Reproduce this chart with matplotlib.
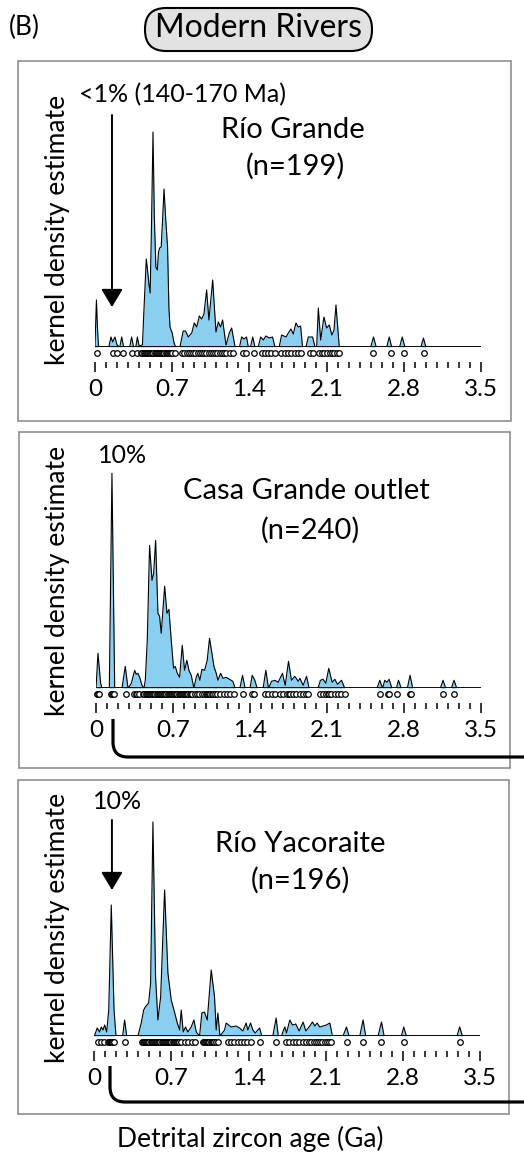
import matplotlib.pyplot as plt
from matplotlib.patches import Rectangle, FancyBboxPatch, PathPatch
from matplotlib.path import Path
from matplotlib.transforms import Affine2D
from matplotlib.ticker import MultipleLocator

plt.rcParams['font.family'] = ['Lato', 'DejaVu Sans']

W, H = 524, 1162
BLUE = '#8acff0'

ticks = [0, 0.7, 1.4, 2.1, 2.8, 3.5]
tick_labels = ['0', '0.7', '1.4', '2.1', '2.8', '3.5']

# KDE outlines: age (Ga) and height (px above baseline)
rg_age = [0.0, 0.005, 0.013, 0.022, 0.032, 0.125, 0.145, 0.16, 0.181, 0.2, 0.225, 0.242, 0.26, 0.315,
          0.332, 0.35, 0.37, 0.384, 0.40, 0.43, 0.445, 0.465, 0.478, 0.49, 0.50, 0.512, 0.526, 0.538,
          0.552, 0.565, 0.576, 0.586, 0.60, 0.614, 0.626, 0.64, 0.658, 0.67, 0.68, 0.70, 0.715, 0.73,
          0.77, 0.80, 0.821, 0.846, 0.877, 0.90, 0.922, 0.946, 0.967, 0.988, 1.012, 1.033, 1.067,
          1.097, 1.118, 1.139, 1.157, 1.188, 1.218, 1.239, 1.27, 1.31, 1.33, 1.351, 1.374, 1.39, 1.41,
          1.43, 1.45, 1.48, 1.502, 1.526, 1.55, 1.58, 1.61, 1.632, 1.67, 1.692, 1.732, 1.753, 1.777,
          1.798, 1.822, 1.843, 1.864, 1.882, 1.913, 1.934, 1.973, 1.995, 2.01, 2.025, 2.046, 2.076,
          2.10, 2.124, 2.148, 2.167, 2.185, 2.215, 2.50, 2.525, 2.55, 2.645, 2.668, 2.69, 2.762,
          2.786, 2.81, 2.955, 2.978, 3.0, 3.5]
rg_kde = [0, 20, 47, 20, 0, 0, 10, 5, 10, 2, 0, 10, 0, 0, 10, 0, 0, 10, 1, 2, 40, 88, 75, 62, 54,
          120, 215, 130, 80, 77, 95, 99, 100, 130, 158, 130, 100, 40, 20, 14, 5, 0, 0, 16, 16, 10,
          14, 24, 20, 31, 28, 33, 57, 27, 67, 15, 25, 20, 27, 2, 14, 19, 0, 0, 10, 8, 10, 0, 0, 10,
          0, 0, 10, 7, 11, 9, 10, 0, 0, 12, 10, 14, 18, 13, 24, 20, 21, 0, 0, 10, 10, 0, 0, 39, 7,
          30, 19, 22, 12, 17, 42, 0, 0, 10, 0, 0, 10, 0, 0, 10, 0, 0, 9, 0, 0]
rg_grains = [0.015, 0.16, 0.197, 0.257, 0.332, 0.378, 0.42, 0.43, 0.44, 0.45, 0.46, 0.47, 0.48,
             0.49, 0.50, 0.51, 0.52, 0.53, 0.54, 0.55, 0.56, 0.57, 0.58, 0.59, 0.60, 0.61, 0.62,
             0.63, 0.64, 0.65, 0.66, 0.67, 0.68, 0.69, 0.70, 0.725, 0.79, 0.81, 0.83, 0.85, 0.87,
             0.89, 0.91, 0.93, 0.95, 0.97, 0.99, 1.01, 1.03, 1.05, 1.07, 1.09, 1.11, 1.13, 1.15,
             1.17, 1.19, 1.22, 1.25, 1.34, 1.37, 1.44, 1.51, 1.54, 1.57, 1.60, 1.63, 1.69, 1.72,
             1.75, 1.78, 1.81, 1.84, 1.87, 1.95, 1.98, 2.03, 2.06, 2.08, 2.10, 2.13, 2.15, 2.17,
             2.19, 2.21, 2.52, 2.68, 2.80, 2.98]

cg_age = [0.0, 0.018, 0.042, 0.054, 0.121, 0.145, 0.17, 0.236, 0.266, 0.291, 0.321, 0.351, 0.366,
          0.381, 0.397, 0.418, 0.436, 0.448, 0.466, 0.487, 0.509, 0.524, 0.542, 0.563, 0.578, 0.593,
          0.624, 0.645, 0.663, 0.684, 0.705, 0.72, 0.739, 0.76, 0.784, 0.805, 0.826, 0.845, 0.866,
          0.89, 0.911, 0.926, 0.944, 0.963, 0.987, 1.011, 1.032, 1.054, 1.072, 1.093, 1.108, 1.133,
          1.154, 1.184, 1.214, 1.244, 1.265, 1.308, 1.332, 1.356, 1.40, 1.42, 1.444, 1.465, 1.519,
          1.544, 1.568, 1.596, 1.626, 1.656, 1.695, 1.72, 1.75, 1.777, 1.807, 1.838, 1.853, 1.883,
          1.914, 1.938, 2.019, 2.04, 2.065, 2.089, 2.116, 2.147, 2.171, 2.196, 2.232, 2.262, 2.555,
          2.58, 2.605, 2.625, 2.645, 2.665, 2.69, 2.73, 2.75, 2.775, 2.83, 2.855, 2.88, 3.13, 3.155,
          3.18, 3.23, 3.255, 3.28, 3.5]
cg_kde = [0, 35, 5, 0, 0, 215, 0, 0, 22, 0, 5, 18, 14, 15, 11, 3, 0, 8, 48, 143, 108, 115, 148, 75,
          72, 55, 102, 75, 79, 48, 20, 22, 15, 11, 43, 18, 28, 18, 13, 0, 11, 15, 8, 19, 18, 28, 50,
          35, 22, 15, 8, 15, 10, 11, 9, 7, 0, 0, 13, 0, 0, 13, 8, 0, 0, 18, 0, 7, 8, 6, 15, 3, 27, 8,
          12, 7, 10, 3, 12, 0, 0, 8, 9, 5, 20, 6, 9, 4, 8, 0, 0, 8, 0, 8, 6, 9, 0, 0, 8, 0, 0, 13, 0,
          0, 8, 0, 0, 8, 0, 0]
cg_grains = [0.012, 0.02, 0.028, 0.14, 0.147, 0.155, 0.163, 0.27, 0.345, 0.36, 0.375, 0.39, 0.43,
             0.44, 0.45, 0.46, 0.47, 0.48, 0.49, 0.50, 0.51, 0.52, 0.53, 0.54, 0.55, 0.56, 0.57,
             0.58, 0.59, 0.60, 0.61, 0.62, 0.63, 0.64, 0.65, 0.66, 0.67, 0.68, 0.69, 0.70, 0.71,
             0.72, 0.73, 0.74, 0.75, 0.76, 0.77, 0.78, 0.79, 0.80, 0.81, 0.82, 0.83, 0.84, 0.85,
             0.86, 0.87, 0.90, 0.92, 0.94, 0.96, 0.98, 1.00, 1.01, 1.02, 1.03, 1.04, 1.05, 1.06,
             1.08, 1.10, 1.13, 1.16, 1.19, 1.22, 1.25, 1.34, 1.42, 1.44, 1.54, 1.56, 1.60, 1.63,
             1.67, 1.70, 1.74, 1.75, 1.76, 1.79, 1.82, 1.85, 1.88, 1.91, 1.93, 2.04, 2.06, 2.09,
             2.11, 2.12, 2.14, 2.17, 2.20, 2.23, 2.26, 2.58, 2.65, 2.66, 2.74, 2.85, 2.86, 3.15,
             3.25]

ry_age = [0.0, 0.027, 0.048, 0.063, 0.079, 0.094, 0.112, 0.131, 0.154, 0.179, 0.197, 0.257, 0.275,
          0.294, 0.396, 0.426, 0.448, 0.463, 0.493, 0.511, 0.532, 0.556, 0.577, 0.602, 0.638, 0.668,
          0.698, 0.723, 0.753, 0.774, 0.789, 0.807, 0.828, 0.849, 0.879, 0.904, 0.925, 0.955, 0.976,
          1.0, 1.025, 1.061, 1.091, 1.106, 1.121, 1.14, 1.182, 1.197, 1.242, 1.287, 1.318, 1.348,
          1.378, 1.393, 1.418, 1.439, 1.46, 1.50, 1.52, 1.62, 1.65, 1.67, 1.699, 1.714, 1.729, 1.744,
          1.774, 1.798, 1.828, 1.859, 1.895, 1.919, 1.949, 1.98, 2.001, 2.022, 2.046, 2.076, 2.106,
          2.137, 2.161, 2.257, 2.288, 2.312, 2.409, 2.439, 2.463, 2.575, 2.606, 2.63, 2.787, 2.808,
          2.832, 3.291, 3.316, 3.34, 3.5]
ry_kde = [0, 8, 4, 9, 6, 11, 4, 26, 131, 26, 0, 0, 16, 0, 0, 13, 26, 29, 33, 53, 214, 59, 16, 39,
          146, 63, 36, 26, 13, 6, 26, 4, 9, 4, 9, 16, 4, 0, 23, 24, 16, 66, 39, 6, 23, 0, 6, 13, 9,
          10, 8, 5, 13, 6, 13, 6, 3, 8, 0, 0, 18, 0, 0, 5, 9, 3, 16, 11, 12, 5, 14, 5, 9, 14, 10, 13,
          9, 10, 11, 13, 0, 0, 9, 0, 0, 16, 0, 0, 14, 0, 0, 9, 0, 0, 9, 0, 0]
ry_grains = [0.03, 0.06, 0.09, 0.12, 0.13, 0.14, 0.145, 0.15, 0.155, 0.16, 0.165, 0.17, 0.18, 0.275,
             0.43, 0.44, 0.45, 0.46, 0.47, 0.48, 0.49, 0.50, 0.51, 0.52, 0.53, 0.54, 0.55, 0.56,
             0.57, 0.58, 0.59, 0.60, 0.61, 0.62, 0.63, 0.64, 0.65, 0.66, 0.67, 0.68, 0.69, 0.70,
             0.71, 0.72, 0.73, 0.74, 0.75, 0.76, 0.77, 0.79, 0.82, 0.85, 0.89, 0.91, 0.985, 0.995,
             1.005, 1.015, 1.025, 1.035, 1.045, 1.055, 1.065, 1.075, 1.085, 1.10, 1.12, 1.21, 1.24,
             1.27, 1.30, 1.33, 1.36, 1.39, 1.42, 1.50, 1.65, 1.74, 1.77, 1.80, 1.83, 1.86, 1.89,
             1.92, 1.95, 1.97, 1.99, 2.01, 2.03, 2.05, 2.07, 2.09, 2.11, 2.13, 2.15, 2.29, 2.44,
             2.60, 2.81, 3.32]

fig = plt.figure(figsize=(W / 100, H / 100), dpi=100)
# pixel coordinates, origin top-left
pix = Affine2D().scale(0.01, -0.01).translate(0, H / 100) + fig.dpi_scale_trans


def panel(age, kde, grains, x0, x1, base):
    ax = fig.add_axes([x0 / W, (H - base) / H, (x1 - x0) / W, 235 / H])
    ax.set_xlim(0, 3.5)
    ax.set_ylim(0, 235)
    ax.patch.set_alpha(0)
    ax.fill_between(age, kde, color=BLUE, lw=0)
    ax.plot(age, kde, color='k', lw=0.8)
    ax.axhline(0, color='k', lw=1.3)
    ax.plot(grains, [-5.5] * len(grains), 'o', ms=4.0, mfc='white', mec='k', mew=0.9,
            clip_on=False)
    for s in ['left', 'right', 'top']:
        ax.spines[s].set_visible(False)
    ax.spines['bottom'].set_position(('outward', 10.8))
    ax.spines['bottom'].set_visible(False)
    ax.set_yticks([])
    ax.set_xticks(ticks)
    ax.set_xticklabels(tick_labels)
    ax.xaxis.set_minor_locator(MultipleLocator(0.1))
    ax.tick_params(which='major', length=7.2, width=1.1, pad=5, labelsize=17.5)
    ax.tick_params(which='minor', length=4.3, width=1.1)
    return ax


def box(x, y, w, h):
    fig.add_artist(Rectangle((x, y), w, h, transform=pix, fill=False, ec='#858585', lw=1.1))


def bracket(x, y0, y1, r=15):
    p = Path([(x, y0), (x, y1 - r), (x, y1), (x + r, y1), (W + 10, y1)],
             [Path.MOVETO, Path.LINETO, Path.CURVE3, Path.CURVE3, Path.LINETO])
    fig.add_artist(PathPatch(p, transform=pix, fill=False, ec='k', lw=2.3))


def txt(x, y, s, size, **kw):
    fig.text(x, y, s, transform=pix, fontsize=size, ha='center', va='baseline', **kw)


def arrow(ax, age, top, tip):
    ax.annotate('', xy=(age, tip), xytext=(age, top), annotation_clip=False,
                arrowprops=dict(arrowstyle='-|>,head_length=0.55,head_width=0.33',
                                mutation_scale=20, lw=1.4, color='k', shrinkA=0, shrinkB=0))


# header
txt(24, 35, '(B)', 19)
fig.add_artist(FancyBboxPatch((145, 8), 227, 43, boxstyle='round,pad=0,rounding_size=21',
                              transform=pix, fc='#e2e2e2', ec='k', lw=1.5))
txt(258.5, 37, 'Modern Rivers', 23)

# panel 1
box(18, 61, 493, 360)
ax1 = panel(rg_age, rg_kde, rg_grains, 95, 481, 347)
arrow(ax1, 0.154, 232, 40)
txt(182.5, 102, '<1% (140-170 Ma)', 18)
txt(292.5, 138, 'Río Grande', 21)
txt(295.5, 175, '(n=199)', 21)

# panel 2
box(19, 432, 491, 336)
ax2 = panel(cg_age, cg_kde, cg_grains, 96, 481, 688.3)
bracket(113, 719, 757)
txt(122.5, 463, '10%', 18)
txt(306.5, 499, 'Casa Grande outlet', 21)
txt(310, 539, '(n=240)', 21)

# panel 3
box(18, 780, 491, 334)
ax3 = panel(ry_age, ry_kde, ry_grains, 94.3, 480, 1036)
arrow(ax3, 0.16, 216, 146)
bracket(110, 1066, 1102)
txt(117.5, 809, '10%', 18)
txt(300, 851.5, 'Río Yacoraite', 21)
txt(300.8, 889, '(n=196)', 21)

for yc in [229.5, 580.5, 927.5]:
    fig.text(58, yc, 'kernel density estimate', transform=pix, fontsize=19, rotation=90,
             ha='center', va='center')

txt(250, 1147, 'Detrital zircon age (Ga)', 19)

fig.savefig('out.png', dpi=100, facecolor='white')
